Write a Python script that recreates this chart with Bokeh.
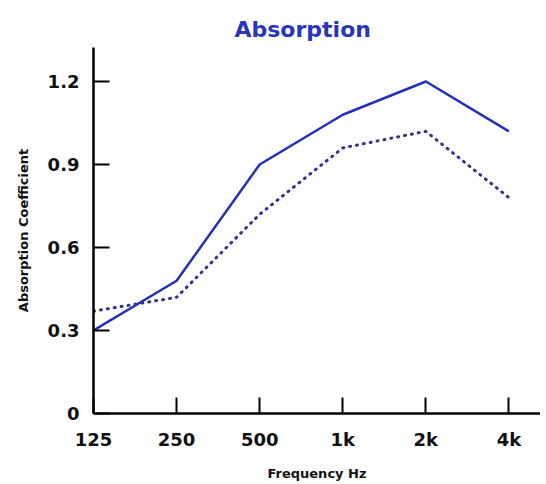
from bokeh.plotting import figure
from bokeh.models import FixedTicker, Range1d, LinearAxis
from bokeh.embed import file_html
from bokeh.resources import INLINE

# Data
title_text = "Absorption"
frequencies = ["125", "250", "500", "1k", "2k", "4k"]
series_solid = [0.30, 0.48, 0.90, 1.08, 1.20, 1.02]
series_dotted = [0.37, 0.42, 0.72, 0.96, 1.02, 0.78]
y_ticks = [0, 0.3, 0.6, 0.9, 1.2]
y_tick_labels = ["0", "0.3", "0.6", "0.9", "1.2"]

x_idx = list(range(len(frequencies)))

FONT = "DejaVu Sans"

p = figure(width=540, height=484, output_backend="svg", toolbar_location=None,
           x_range=Range1d(0, 5.38), y_range=Range1d(0, 1.323),
           min_border_left=93, min_border_right=0, min_border_top=47, min_border_bottom=71,
           title=title_text)

p.title.text_font = FONT
p.title.text_font_style = "bold"
p.title.text_font_size = "22px"
p.title.text_color = "#2a36b8"
p.title.align = "left"
p.title.offset = 141
p.title.vertical_align = "top"
if "standoff" in p.title.properties():
    p.title.standoff = 8

p.outline_line_color = None
p.grid.visible = False
p.background_fill_color = "white"

p.line(x_idx, series_solid, line_color="#2530b8", line_width=2.5)
p.line(x_idx, series_dotted, line_color="#33338f", line_width=3, line_dash="1 6", line_cap="round")

# Main axes (take explicit references before adding the spacer)
xa = p.below[0]
ya = p.left[0]

xa.ticker = FixedTicker(ticks=x_idx)
xa.major_label_overrides = {i: f for i, f in enumerate(frequencies)}
xa.axis_label = "Frequency Hz"

ya.ticker = FixedTicker(ticks=y_ticks)
ya.major_label_overrides = {t: l for t, l in zip(y_ticks, y_tick_labels)}
ya.axis_label = "Absorption Coefficient"

for ax in (xa, ya):
    ax.axis_line_width = 2.5
    ax.axis_line_color = "black"
    ax.major_tick_line_width = 2
    ax.major_tick_line_color = "black"
    ax.major_tick_in = 16
    ax.major_tick_out = 0
    ax.minor_tick_line_color = None
    ax.major_label_text_font = FONT
    ax.major_label_text_font_style = "bold"
    ax.major_label_text_font_size = "18px"
    ax.major_label_text_color = "#111111"
    ax.axis_label_text_font = FONT
    ax.axis_label_text_font_style = "bold"
    ax.axis_label_text_font_size = "13px"
    ax.axis_label_text_color = "#111111"

xa.major_label_standoff = 15
xa.axis_label_standoff = 13
ya.major_label_standoff = 14
ya.axis_label_standoff = 14

# invisible spacer between title and plot area (no ticks, no labels)
spacer = LinearAxis(ticker=FixedTicker(ticks=[]), axis_line_color=None,
                    major_tick_line_color=None, minor_tick_line_color=None,
                    major_tick_in=0, major_tick_out=6, major_label_standoff=5)
p.add_layout(spacer, "above")

open("out.html", "w").write(file_html(p, INLINE))
